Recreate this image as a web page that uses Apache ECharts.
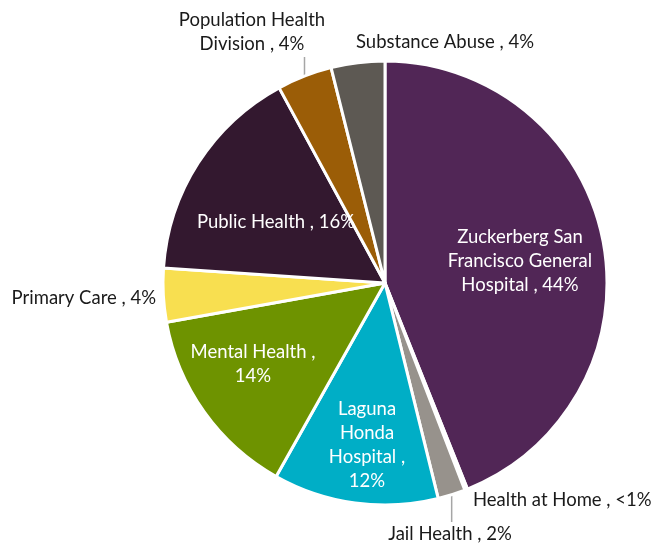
<!DOCTYPE html>
<html>
<head>
<meta charset="utf-8">
<script src="https://cdn.jsdelivr.net/npm/echarts@6/dist/echarts.min.js"></script>
<style>
html,body{margin:0;padding:0;background:#fff;}
#chart{width:657px;height:544px;}
</style>
</head>
<body>
<div id="chart"></div>
<script>
// ---- data ----
const categories = [
  'Zuckerberg San Francisco General Hospital',
  'Health at Home',
  'Jail Health',
  'Laguna Honda Hospital',
  'Mental Health',
  'Primary Care',
  'Public Health',
  'Population Health Division',
  'Substance Abuse'
];
const values = [43.9, 0.2, 2.0, 12.0, 14.0, 3.9, 16.0, 4.0, 3.9];
const percentLabels = ['44%', '<1%', '2%', '12%', '14%', '4%', '16%', '4%', '4%'];
// label text as wrapped in the reference
const labelNames = [
  'Zuckerberg San\nFrancisco General\nHospital ,',
  'Health at Home ,',
  'Jail Health ,',
  'Laguna\nHonda\nHospital ,\n',
  'Mental Health ,\n',
  'Primary Care ,',
  'Public Health ,',
  'Population Health\nDivision ,',
  'Substance Abuse ,'
];

// ---- styling ----
const colors = ['#512656', '#e6e4e1', '#97928c', '#00aec6', '#6e9300', '#f8df50', '#33182f', '#9b5d07', '#5d5953'];
const insideIdx = [0, 3, 4, 6];
const labelPos = [
  {x: 520, y: 261, align: 'center'},
  {x: 473, y: 500, align: 'left'},
  {x: 450, y: 534, align: 'center'},
  {x: 367, y: 445, align: 'center'},
  {x: 253, y: 364, align: 'center'},
  {x: 156, y: 298, align: 'right'},
  {x: 276, y: 222, align: 'center'},
  {x: 252, y: 32, align: 'center'},
  {x: 445, y: 42, align: 'center'}
];
// leader lines: slice index -> y where the line ends (label edge)
const leaders = [{idx: 2, toY: 522}, {idx: 7, toY: 57}];

const fontFamily = 'Lato, "Open Sans", sans-serif';

const data = categories.map((name, i) => {
  const inside = insideIdx.indexOf(i) >= 0;
  return {
    name: name,
    value: values[i],
    itemStyle: {color: colors[i]},
    label: {
      position: inside ? 'inside' : 'outside',
      color: inside ? '#ffffff' : '#1a1a1a'
    }
  };
});

const chart = echarts.init(document.getElementById('chart'), null, {renderer: 'canvas'});
chart.setOption({
  animation: false,
  backgroundColor: '#ffffff',
  series: [{
    type: 'pie',
    center: [385, 283],
    radius: [0, 222],
    startAngle: 90,
    clockwise: true,
    avoidLabelOverlap: false,
    data: data,
    itemStyle: {borderColor: '#ffffff', borderWidth: 3},
    label: {
      show: true,
      fontFamily: fontFamily,
      fontSize: 18.5,
      lineHeight: 24,
      formatter: function (p) {
        const nm = labelNames[p.dataIndex];
        const sep = nm.endsWith('\n') ? '' : ' ';
        return nm + sep + percentLabels[p.dataIndex];
      }
    },
    labelLine: {show: false},
    labelLayout: function (p) {
      const pos = labelPos[p.dataIndex];
      return {x: pos.x, y: pos.y, align: pos.align, verticalAlign: 'middle'};
    },
    emphasis: {disabled: true}
  }]
});

// leader lines from the middle of each slice's arc (taken from the pie layout)
function addLeaders() {
  let pieData = null;
  try { pieData = chart.getModel().getSeriesByIndex(0).getData(); } catch (e) {}
  const gs = leaders.map(function (ld) {
    let cx, cy, r, mid;
    if (pieData) {
      const lay = pieData.getItemLayout(ld.idx);
      cx = lay.cx; cy = lay.cy; r = lay.r;
      mid = (lay.startAngle + lay.endAngle) / 2;
    } else {
      const total = values.reduce((a, b) => a + b, 0);
      let acc = 0;
      for (let k = 0; k < ld.idx; k++) acc += values[k];
      const midFrac = (acc + values[ld.idx] / 2) / total;
      mid = -Math.PI / 2 + midFrac * 2 * Math.PI;
      cx = 385; cy = 283; r = 222;
    }
    const x = cx + r * Math.cos(mid);
    const y = cy + r * Math.sin(mid);
    return {
      type: 'line',
      silent: true,
      shape: {x1: x, y1: y, x2: x, y2: ld.toY},
      style: {stroke: '#a6a6a6', lineWidth: 1.5}
    };
  });
  chart.setOption({graphic: gs});
}
addLeaders();
</script>
</body>
</html>
